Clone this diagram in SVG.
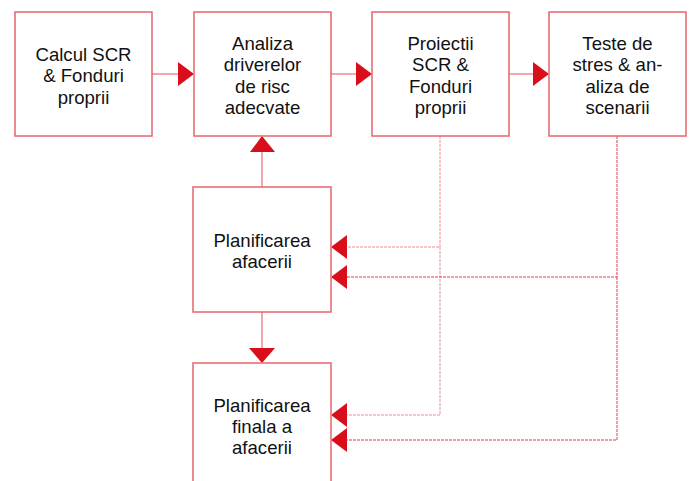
<svg xmlns="http://www.w3.org/2000/svg" width="694" height="481" viewBox="0 0 694 481">
  <style>
    .box { fill: #ffffff; stroke: #e8646c; stroke-width: 1.5; }
    .lbl { font-family: "Liberation Sans", Arial, sans-serif; font-size: 18.6px; fill: #111111; text-anchor: middle; }
    .solid { fill: none; stroke: #ef8a92; stroke-width: 1.5; }
    .dash-a { fill: none; stroke: #f5b4b9; stroke-width: 1.5; stroke-dasharray: 3 1; }
    .dash-b { fill: none; stroke: #dc3a44; stroke-width: 1; stroke-dasharray: 3 1; }
    .head { fill: #d80f1a; }
  </style>
  <rect width="694" height="481" fill="#ffffff"/>

  <g id="connectors">
    <!-- top row flow -->
    <line class="solid" x1="152" y1="74" x2="178" y2="74"/>
    <polygon class="head" points="178,62 194,74 178,86"/>
    <line class="solid" x1="331" y1="74" x2="356" y2="74"/>
    <polygon class="head" points="356,62 372,74 356,86"/>
    <line class="solid" x1="509" y1="74" x2="533" y2="74"/>
    <polygon class="head" points="533,62 549,74 533,86"/>
    <!-- business planning up to risk drivers -->
    <line class="solid" x1="262" y1="187" x2="262" y2="152"/>
    <polygon class="head" points="250,152 262,136 275,152"/>
    <!-- business planning down to final planning -->
    <line class="solid" x1="262" y1="312" x2="262" y2="348"/>
    <polygon class="head" points="249,348 262,363 275,348"/>
    <!-- projections feedback -->
    <polyline class="dash-a" points="440,136 440,247 347,247"/>
    <polyline class="dash-a" points="440,247 440,415 347,415"/>
    <polygon class="head" points="347,235 331,247 347,259"/>
    <polygon class="head" points="347,403 331,415 347,427"/>
    <!-- stress test feedback -->
    <polyline class="dash-b" points="617,136 617,277 347,277"/>
    <polyline class="dash-b" points="617,277 617,440 347,440"/>
    <polygon class="head" points="347,265 331,277 347,289"/>
    <polygon class="head" points="347,428 331,440 347,452"/>
  </g>

  <g id="calcul-scr">
    <rect class="box" x="15" y="12" width="137" height="124"/>
    <text class="lbl" x="83.5" y="60.5">Calcul SCR</text>
    <text class="lbl" x="83.5" y="82">&amp; Fonduri</text>
    <text class="lbl" x="83.5" y="103.5">proprii</text>
  </g>

  <g id="analiza-drivere">
    <rect class="box" x="194" y="12" width="137" height="124"/>
    <text class="lbl" x="262.5" y="49.5">Analiza</text>
    <text class="lbl" x="262.5" y="71">driverelor</text>
    <text class="lbl" x="262.5" y="92.5">de risc</text>
    <text class="lbl" x="262.5" y="113.5">adecvate</text>
  </g>

  <g id="proiectii">
    <rect class="box" x="372" y="12" width="137" height="124"/>
    <text class="lbl" x="440.5" y="49.5">Proiectii</text>
    <text class="lbl" x="440.5" y="71">SCR &amp;</text>
    <text class="lbl" x="440.5" y="92.5">Fonduri</text>
    <text class="lbl" x="440.5" y="113.5">proprii</text>
  </g>

  <g id="teste-stres">
    <rect class="box" x="549" y="12" width="137" height="124"/>
    <text class="lbl" x="617.5" y="49.5">Teste de</text>
    <text class="lbl" x="617.5" y="71">stres &amp; an-</text>
    <text class="lbl" x="617.5" y="92.5">aliza de</text>
    <text class="lbl" x="617.5" y="113.5">scenarii</text>
  </g>

  <g id="planificarea-afacerii">
    <rect class="box" x="193" y="187" width="138" height="125"/>
    <text class="lbl" x="262" y="246.5">Planificarea</text>
    <text class="lbl" x="262" y="267.5">afacerii</text>
  </g>

  <g id="planificarea-finala">
    <rect class="box" x="193" y="363" width="138" height="140"/>
    <text class="lbl" x="262" y="412">Planificarea</text>
    <text class="lbl" x="262" y="433">finala a</text>
    <text class="lbl" x="262" y="454">afacerii</text>
  </g>
</svg>
